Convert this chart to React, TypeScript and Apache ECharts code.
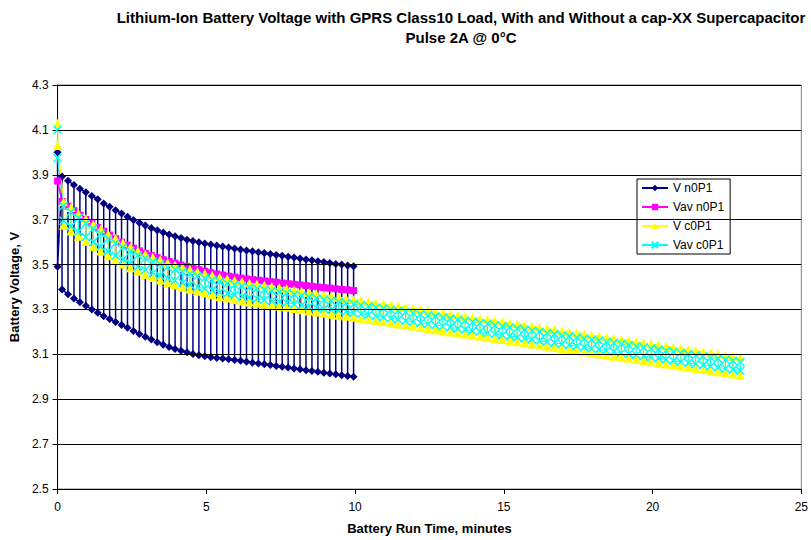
import React, { useEffect, useRef } from "react";
import * as echarts from "echarts";

// Y-axis tick labels (volts) and X-axis range (minutes)
const yTicks = [2.5, 2.7, 2.9, 3.1, 3.3, 3.5, 3.7, 3.9, 4.1, 4.3];
const xTicks = [0, 5, 10, 15, 20, 25];

const seriesNames = ["V n0P1", "Vav n0P1", "V c0P1", "Vav c0P1"];

// Without supercapacitor: pulse samples every 0.2 min starting 0.15 min
const nStart = 0.15;
const nStep = 0.2;
// With supercapacitor: pulse samples every 0.25 min starting 0.2 min
const cStart = 0.2;
const cStep = 0.25;

// Initial (t = 0) readings
const blueStart = [4.0, 3.49];
const magentaStart = [3.872];
const yellowStart = [4.13, 4.03];
const cyanStart = [4.1, 3.975];

// V n0P1 : upper (rest) and lower (pulse) voltage
const blueHigh = [3.892,3.873,3.855,3.838,3.822,3.806,3.791,3.772,3.757,3.742,
  3.728,3.713,3.699,3.686,3.674,3.663,3.653,3.643,3.634,3.626,
  3.618,3.611,3.605,3.599,3.594,3.589,3.585,3.580,3.576,3.571,
  3.567,3.563,3.559,3.555,3.551,3.547,3.543,3.539,3.535,3.531,
  3.527,3.523,3.519,3.515,3.511,3.507,3.503,3.500,3.496,3.493];
const blueLow = [3.389,3.368,3.349,3.332,3.316,3.300,3.285,3.270,3.257,3.244,
  3.231,3.218,3.204,3.191,3.178,3.166,3.154,3.143,3.133,3.124,
  3.116,3.109,3.102,3.096,3.091,3.087,3.084,3.081,3.078,3.075,
  3.071,3.067,3.063,3.059,3.056,3.052,3.048,3.045,3.041,3.037,
  3.033,3.029,3.026,3.022,3.018,3.015,3.011,3.007,3.004,3.000];

// Vav n0P1
const magentaVals = [3.781,3.760,3.740,3.720,3.701,3.683,3.665,3.648,3.631,3.615,
  3.600,3.586,3.573,3.561,3.550,3.540,3.531,3.522,3.514,3.506,
  3.498,3.491,3.484,3.477,3.470,3.464,3.458,3.453,3.448,3.444,
  3.440,3.436,3.433,3.430,3.427,3.424,3.421,3.418,3.415,3.412,
  3.409,3.406,3.403,3.400,3.397,3.395,3.392,3.389,3.387,3.384];

// V c0P1
const yellowHigh = [3.780,3.754,3.728,3.704,3.680,3.658,3.636,3.616,3.597,3.579,
  3.562,3.547,3.533,3.521,3.509,3.498,3.488,3.478,3.469,3.460,
  3.452,3.444,3.437,3.430,3.424,3.418,3.413,3.408,3.403,3.398,
  3.393,3.387,3.381,3.375,3.370,3.364,3.359,3.354,3.349,3.344,
  3.339,3.334,3.329,3.324,3.319,3.314,3.309,3.304,3.299,3.294,
  3.289,3.284,3.279,3.274,3.269,3.264,3.260,3.255,3.250,3.245,
  3.240,3.235,3.230,3.225,3.220,3.215,3.210,3.205,3.200,3.195,
  3.190,3.185,3.181,3.176,3.171,3.166,3.161,3.156,3.151,3.146,
  3.141,3.136,3.131,3.126,3.121,3.116,3.111,3.106,3.101,3.096,
  3.091,3.086];
const yellowLow = [3.675,3.650,3.626,3.603,3.580,3.560,3.539,3.520,3.503,3.486,
  3.470,3.456,3.442,3.431,3.419,3.409,3.399,3.390,3.381,3.373,
  3.365,3.357,3.351,3.344,3.338,3.333,3.328,3.323,3.319,3.314,
  3.310,3.304,3.299,3.293,3.289,3.283,3.279,3.274,3.270,3.265,
  3.260,3.255,3.250,3.245,3.240,3.235,3.230,3.225,3.220,3.215,
  3.210,3.205,3.200,3.195,3.190,3.185,3.181,3.176,3.171,3.166,
  3.161,3.156,3.151,3.146,3.141,3.136,3.131,3.126,3.121,3.116,
  3.111,3.106,3.102,3.097,3.092,3.087,3.082,3.077,3.072,3.067,
  3.062,3.057,3.052,3.047,3.042,3.037,3.032,3.027,3.022,3.017,
  3.012,3.007];

// Vav c0P1
const cyanHigh = [3.760,3.734,3.708,3.684,3.660,3.638,3.616,3.596,3.577,3.559,
  3.542,3.527,3.513,3.501,3.489,3.478,3.468,3.458,3.449,3.440,
  3.432,3.424,3.417,3.410,3.404,3.398,3.393,3.388,3.383,3.378,
  3.373,3.367,3.361,3.355,3.350,3.344,3.339,3.334,3.329,3.324,
  3.319,3.314,3.309,3.304,3.299,3.294,3.289,3.284,3.279,3.274,
  3.269,3.264,3.259,3.254,3.249,3.244,3.240,3.235,3.230,3.225,
  3.220,3.215,3.210,3.205,3.200,3.195,3.190,3.185,3.180,3.175,
  3.170,3.165,3.161,3.156,3.151,3.146,3.141,3.136,3.131,3.126,
  3.121,3.116,3.111,3.106,3.101,3.096,3.091,3.086,3.081,3.076,
  3.071,3.066];
const cyanLow = [3.695,3.670,3.646,3.623,3.600,3.580,3.559,3.540,3.523,3.506,
  3.490,3.476,3.462,3.451,3.439,3.429,3.419,3.410,3.401,3.393,
  3.385,3.377,3.371,3.364,3.358,3.353,3.348,3.343,3.339,3.334,
  3.330,3.324,3.319,3.313,3.309,3.303,3.299,3.294,3.290,3.285,
  3.280,3.275,3.270,3.265,3.260,3.255,3.250,3.245,3.240,3.235,
  3.230,3.225,3.220,3.215,3.210,3.205,3.201,3.196,3.191,3.186,
  3.181,3.176,3.171,3.166,3.161,3.156,3.151,3.146,3.141,3.136,
  3.131,3.126,3.122,3.117,3.112,3.107,3.102,3.097,3.092,3.087,
  3.082,3.077,3.072,3.067,3.062,3.057,3.052,3.047,3.042,3.037,
  3.032,3.027];

const FONT = "'Liberation Sans', Arial, sans-serif";
const CROSS = "path://M0,0L10,10M10,0L0,10";

function pulseTrace(start: number[], t0: number, dt: number, hi: number[], lo: number[]) {
  const pts: number[][] = start.map((v) => [0, v]);
  for (let k = 0; k < hi.length; k++) {
    const t = +(t0 + k * dt).toFixed(3);
    if (k % 2 === 0) {
      pts.push([t, hi[k]], [t, lo[k]]);
    } else {
      pts.push([t, lo[k]], [t, hi[k]]);
    }
  }
  return pts;
}

function singleTrace(start: number[], t0: number, dt: number, vals: number[]) {
  const pts: number[][] = start.map((v) => [0, v]);
  vals.forEach((v, k) => pts.push([+(t0 + k * dt).toFixed(3), v]));
  return pts;
}

export default function App() {
  const ref = useRef<HTMLDivElement>(null);
  useEffect(() => {
    document.body.style.margin = "0";
    const chart = echarts.init(ref.current!, null, { renderer: "svg" });
    const lineCommon = {
      type: "line",
      animation: false,
      clip: true,
      emphasis: { disabled: true },
    };
    chart.setOption({
      animation: false,
      backgroundColor: "#fff",
      textStyle: { fontFamily: FONT },
      title: {
        text: "Lithium-Ion Battery Voltage with GPRS Class10 Load, With and Without a cap-XX Supercapacitor\nPulse 2A @ 0°C",
        left: 461,
        top: 7,
        padding: 0,
        textAlign: "center",
        textStyle: { fontFamily: FONT, fontSize: 15, fontWeight: "bold", color: "#000", lineHeight: 20 },
      },
      legend: {
        data: seriesNames,
        orient: "vertical",
        left: 637,
        top: 179,
        itemWidth: 26,
        itemHeight: 8,
        itemGap: 5,
        padding: [2, 6, 2, 4],
        borderColor: "#000",
        borderWidth: 1,
        backgroundColor: "#fff",
        selectedMode: false,
        textStyle: { fontFamily: FONT, fontSize: 12, color: "#000", lineHeight: 14 },
      },
      grid: {
        left: 57,
        right: 8,
        top: 85,
        bottom: 47,
        show: true,
        borderColor: "#808080",
        borderWidth: 1,
        backgroundColor: "transparent",
      },
      xAxis: {
        type: "value",
        min: xTicks[0],
        max: xTicks[xTicks.length - 1],
        interval: 5,
        name: "Battery Run Time, minutes",
        nameLocation: "middle",
        nameGap: 33,
        nameTextStyle: { fontFamily: FONT, fontSize: 13, fontWeight: "bold", color: "#000" },
        axisLine: { show: true, lineStyle: { color: "#000", width: 1 } },
        axisTick: { show: true, inside: false, length: 5, lineStyle: { color: "#000" } },
        axisLabel: { fontFamily: FONT, fontSize: 12, color: "#000", margin: 12 },
        splitLine: { show: false },
      },
      yAxis: {
        type: "value",
        min: yTicks[0],
        max: yTicks[yTicks.length - 1],
        name: "Battery Voltage, V",
        nameLocation: "middle",
        nameRotate: 90,
        nameGap: 34,
        nameTextStyle: { fontFamily: FONT, fontSize: 13, fontWeight: "bold", color: "#000" },
        axisLine: { show: true, lineStyle: { color: "#000", width: 1 } },
        axisTick: { show: true, inside: false, length: 5, customValues: yTicks, lineStyle: { color: "#000" } },
        axisLabel: {
          fontFamily: FONT,
          fontSize: 12,
          color: "#000",
          margin: 9,
          customValues: yTicks,
          formatter: (v: number) => v.toFixed(1),
        },
        splitLine: { show: false },
      },
      series: [
        {
          ...lineCommon,
          name: "grid",
          data: [],
          silent: true,
          markLine: {
            silent: true,
            symbol: ["none", "none"],
            label: { show: false },
            lineStyle: { color: "#000", width: 1, type: "solid" },
            emphasis: { disabled: true },
            data: yTicks.slice(1).map((v) => ({ yAxis: v })),
          },
        },
        {
          ...lineCommon,
          name: seriesNames[0],
          data: pulseTrace(blueStart, nStart, nStep, blueHigh, blueLow),
          symbol: "diamond",
          symbolSize: 8,
          lineStyle: { color: "#000080", width: 1.5 },
          itemStyle: { color: "#000080" },
        },
        {
          ...lineCommon,
          name: seriesNames[1],
          data: singleTrace(magentaStart, nStart, nStep, magentaVals),
          symbol: "rect",
          symbolSize: 7,
          lineStyle: { color: "#FF00FF", width: 1.5 },
          itemStyle: { color: "#FF00FF" },
        },
        {
          ...lineCommon,
          name: seriesNames[2],
          data: pulseTrace(yellowStart, cStart, cStep, yellowHigh, yellowLow),
          symbol: "triangle",
          symbolSize: 9,
          lineStyle: { color: "#FFFF00", width: 1.5 },
          itemStyle: { color: "#FFFF00" },
        },
        {
          ...lineCommon,
          name: seriesNames[3],
          data: pulseTrace(cyanStart, cStart, cStep, cyanHigh, cyanLow),
          symbol: CROSS,
          symbolSize: 8,
          lineStyle: { color: "#00FFFF", width: 1 },
          itemStyle: { color: "#00FFFF", borderColor: "#00FFFF", borderWidth: 1.5 },
        },
      ],
    });
    return () => chart.dispose();
  }, []);
  return <div ref={ref} style={{ width: 811, height: 540 }} />;
}
